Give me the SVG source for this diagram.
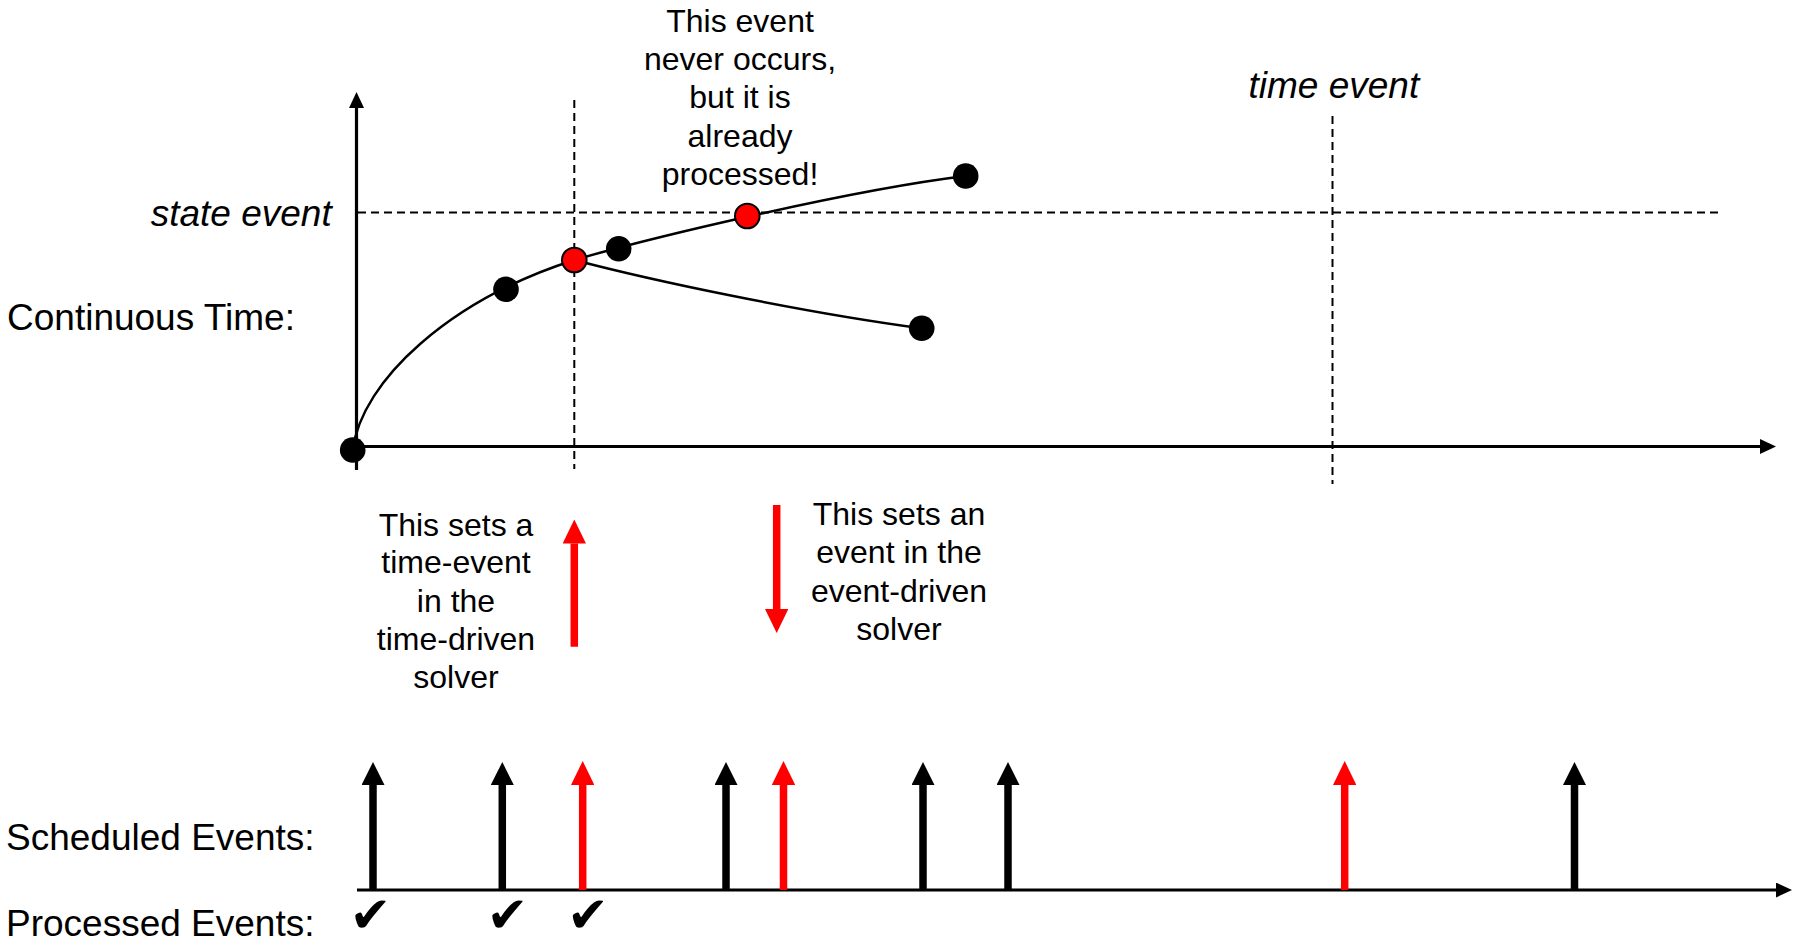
<svg xmlns="http://www.w3.org/2000/svg" width="1796" height="945" viewBox="0 0 1796 945">
<style>
  .lbl { font-family: "Liberation Sans", Arial, sans-serif; font-size: 37px; fill: #000; }
  .it { font-style: italic; }
  .note { font-family: "Liberation Sans", Arial, sans-serif; font-size: 32px; fill: #000; text-anchor: middle; }
  .axis { stroke: #000; stroke-width: 3.2; fill: none; }
  .dash { stroke: #000; stroke-width: 2; stroke-dasharray: 8 5; fill: none; }
  .curve { stroke: #000; stroke-width: 2.4; fill: none; }
  .ev { stroke-width: 7.5; fill: none; }
  .blk { stroke: #000; }
  .red { stroke: #FF0000; }
  .dot { fill: #000; }
  .rdot { fill: #FF0000; stroke: #000; stroke-width: 2; }
  .chk { font-family: "DejaVu Sans", sans-serif; font-size: 50px; fill: #000; text-anchor: middle; }
</style>
<defs>
  <marker id="axhead" markerUnits="userSpaceOnUse" viewBox="0 0 16 15" markerWidth="16" markerHeight="15" refX="0" refY="7.5" orient="auto">
    <path d="M0,0 L16,7.5 L0,15 Z" fill="#000"/>
  </marker>
  <marker id="evblk" markerUnits="userSpaceOnUse" viewBox="0 0 23 23" markerWidth="23" markerHeight="23" refX="0" refY="11.5" orient="auto">
    <path d="M0,0 L23,11.5 L0,23 Z" fill="#000"/>
  </marker>
  <marker id="evred" markerUnits="userSpaceOnUse" viewBox="0 0 24 23.4" markerWidth="24" markerHeight="23.4" refX="0" refY="11.7" orient="auto">
    <path d="M0,0 L24,11.7 L0,23.4 Z" fill="#FF0000"/>
  </marker>
</defs>
<rect width="1796" height="945" fill="#fff"/>

<g id="labels">
  <text class="lbl" x="7" y="329.5">Continuous Time:</text>
  <text class="lbl it" x="331.7" y="226" text-anchor="end">state event</text>
  <text class="lbl it" x="1248.5" y="98.3">time event</text>
  <text class="lbl" x="6" y="850">Scheduled Events:</text>
  <text class="lbl" x="6" y="936">Processed Events:</text>
</g>

<g id="note-never-occurs">
  <text class="note" x="740" y="31.7">This event</text>
  <text class="note" x="740" y="70">never occurs,</text>
  <text class="note" x="740" y="108.3">but it is</text>
  <text class="note" x="740" y="146.7">already</text>
  <text class="note" x="740" y="185">processed!</text>
</g>
<g id="note-time-event">
  <text class="note" x="456" y="536">This sets a</text>
  <text class="note" x="456" y="573.3">time-event</text>
  <text class="note" x="456" y="611.7">in the</text>
  <text class="note" x="456" y="650">time-driven</text>
  <text class="note" x="456" y="688.3">solver</text>
</g>
<g id="note-event-driven">
  <text class="note" x="899" y="525">This sets an</text>
  <text class="note" x="899" y="563.3">event in the</text>
  <text class="note" x="899" y="601.7">event-driven</text>
  <text class="note" x="899" y="640">solver</text>
</g>

<g id="guides">
  <line class="dash" x1="358" y1="212.5" x2="1723" y2="212.5"/>
  <line class="dash" x1="574.3" y1="100" x2="574.3" y2="469"/>
  <line class="dash" x1="1332.5" y1="116" x2="1332.5" y2="484"/>
</g>

<g id="connectors">
  <line class="axis" x1="356.5" y1="470" x2="356.5" y2="108" marker-end="url(#axhead)"/>
  <line class="axis" x1="353" y1="446.5" x2="1760" y2="446.5" marker-end="url(#axhead)"/>
  <path class="curve" d="M352.7,450 C362,380 450,300 574.3,260"/>
  <path class="curve" d="M574.3,260 C650,238 850,190 965.7,176"/>
  <path class="curve" d="M574.3,260 C650,280 800,312 921.7,328.3"/>

  <line class="ev red" x1="574.3" y1="646.7" x2="574.3" y2="543.5" marker-end="url(#evred)"/>
  <line class="ev red" x1="776.7" y1="505" x2="776.7" y2="609" marker-end="url(#evred)"/>

  <line class="axis" x1="357" y1="890" x2="1776" y2="890" marker-end="url(#axhead)"/>
  <line class="ev blk" x1="373" y1="890" x2="373" y2="785" marker-end="url(#evblk)"/>
  <line class="ev blk" x1="502.3" y1="890" x2="502.3" y2="785" marker-end="url(#evblk)"/>
  <line class="ev red" x1="582.7" y1="890" x2="582.7" y2="785" marker-end="url(#evred)"/>
  <line class="ev blk" x1="726" y1="890" x2="726" y2="785" marker-end="url(#evblk)"/>
  <line class="ev red" x1="783.5" y1="890" x2="783.5" y2="785" marker-end="url(#evred)"/>
  <line class="ev blk" x1="923" y1="890" x2="923" y2="785" marker-end="url(#evblk)"/>
  <line class="ev blk" x1="1008" y1="890" x2="1008" y2="785" marker-end="url(#evblk)"/>
  <line class="ev red" x1="1344.7" y1="890" x2="1344.7" y2="785" marker-end="url(#evred)"/>
  <line class="ev blk" x1="1574.5" y1="890" x2="1574.5" y2="785" marker-end="url(#evblk)"/>
</g>

<g id="p-origin"><circle class="dot" cx="352.7" cy="450" r="12.8"/></g>
<g id="p-1"><circle class="dot" cx="506" cy="289.3" r="12.8"/></g>
<g id="p-cross"><circle class="rdot" cx="574.3" cy="260" r="12.3"/></g>
<g id="p-2"><circle class="dot" cx="618.7" cy="248.7" r="12.8"/></g>
<g id="p-state"><circle class="rdot" cx="747.3" cy="216" r="12.3"/></g>
<g id="p-3"><circle class="dot" cx="965.7" cy="176" r="12.8"/></g>
<g id="p-4"><circle class="dot" cx="921.7" cy="328.3" r="12.8"/></g>

<g id="checks">
  <text class="chk" x="370.5" y="932">✔</text>
  <text class="chk" x="507.5" y="932">✔</text>
  <text class="chk" x="588" y="932">✔</text>
</g>
</svg>
